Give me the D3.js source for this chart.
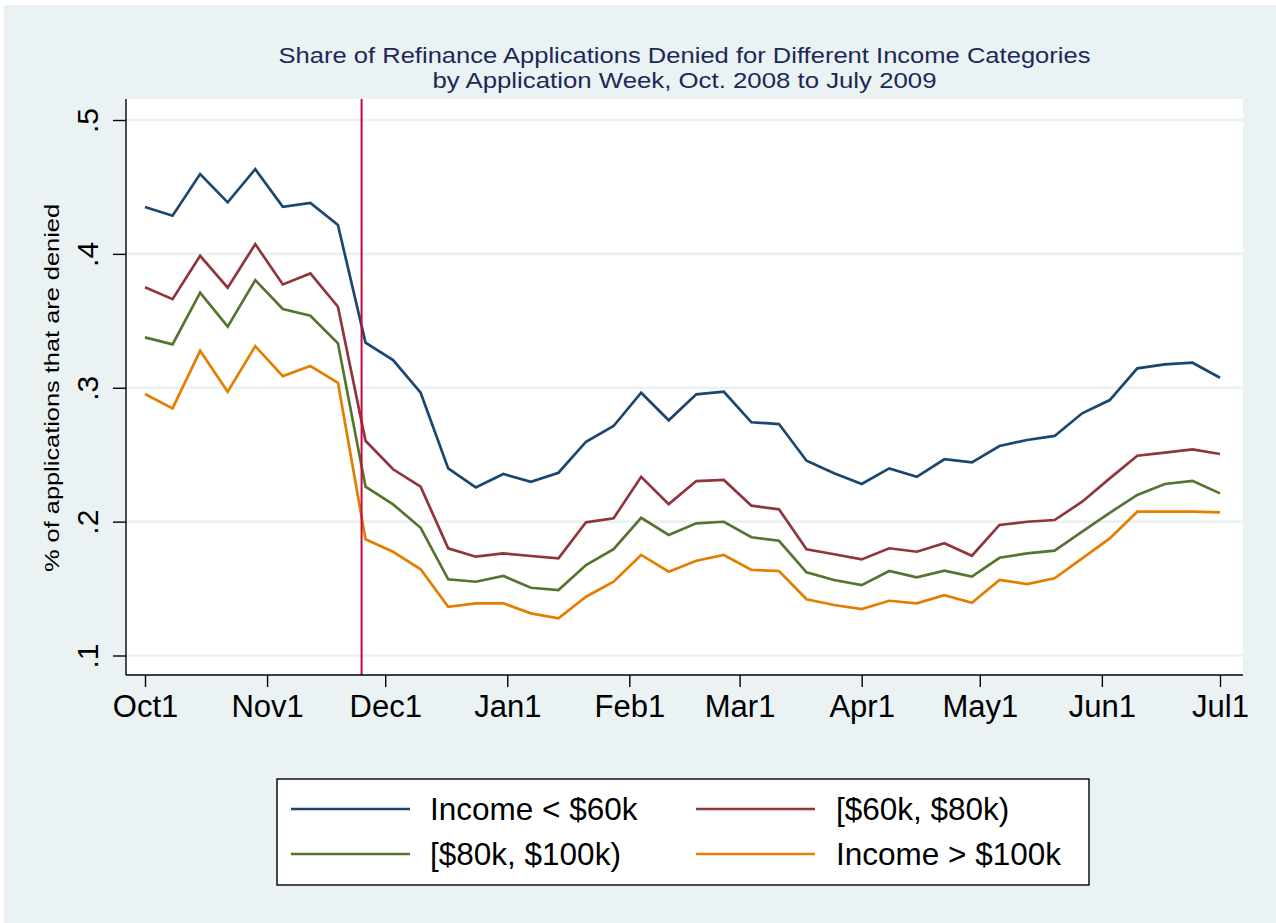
<!DOCTYPE html>
<html>
<head>
<meta charset="utf-8">
<script src="https://cdn.jsdelivr.net/npm/d3@7"></script>
<style>
  html, body { margin: 0; padding: 0; background: #ffffff; }
  svg { display: block; }
  text { font-family: "Liberation Sans", Arial, sans-serif; }
</style>
</head>
<body>
<svg id="chart" width="1276" height="923"></svg>
<script>
// ---------------- data ----------------
const weeks = [
  "2008-10-01","2008-10-08","2008-10-15","2008-10-22","2008-10-29",
  "2008-11-05","2008-11-12","2008-11-19","2008-11-26",
  "2008-12-03","2008-12-10","2008-12-17","2008-12-24","2008-12-31",
  "2009-01-07","2009-01-14","2009-01-21","2009-01-28",
  "2009-02-04","2009-02-11","2009-02-18","2009-02-25",
  "2009-03-04","2009-03-11","2009-03-18","2009-03-25",
  "2009-04-01","2009-04-08","2009-04-15","2009-04-22","2009-04-29",
  "2009-05-06","2009-05-13","2009-05-20","2009-05-27",
  "2009-06-03","2009-06-10","2009-06-17","2009-06-24",
  "2009-07-01"
];
const incomeUnder60 = [
  0.435, 0.4285, 0.4596, 0.4385, 0.4633, 0.4352, 0.438, 0.4216, 0.3337,
  0.3207, 0.2963, 0.2398, 0.2256, 0.2356, 0.2298, 0.2365, 0.2597, 0.2714,
  0.2963, 0.2757, 0.2951, 0.297, 0.2742, 0.2729, 0.2455, 0.2361, 0.2281,
  0.2398, 0.2335, 0.2466, 0.2443, 0.2565, 0.261, 0.264, 0.2809, 0.2908,
  0.3145, 0.3175, 0.3187, 0.3075
];
const income60to80 = [
  0.375, 0.3662, 0.3986, 0.3747, 0.4073, 0.3772, 0.3854, 0.3605, 0.2604,
  0.2391, 0.2261, 0.18, 0.1738, 0.1763, 0.1743, 0.1726, 0.1995, 0.2025,
  0.2335, 0.2131, 0.2303, 0.2311, 0.2119, 0.2092, 0.1793, 0.1756, 0.1718,
  0.1801, 0.1775, 0.1838, 0.1745, 0.1975, 0.1999, 0.2012, 0.2149, 0.2323,
  0.2492, 0.2515, 0.254, 0.2505
];
const income80to100 = [
  0.3376, 0.3324, 0.371, 0.3456, 0.3804, 0.3588, 0.3538, 0.3332, 0.2261,
  0.2129, 0.1954, 0.1569, 0.1551, 0.1594, 0.1506, 0.1489, 0.1676, 0.1795,
  0.2029, 0.19, 0.1987, 0.1999, 0.1883, 0.1857, 0.1621, 0.1564, 0.1526,
  0.1631, 0.1584, 0.1633, 0.1589, 0.173, 0.1763, 0.1783, 0.1925, 0.2066,
  0.2199, 0.2281, 0.2305, 0.2211
];
const incomeOver100 = [
  0.2953, 0.2846, 0.3276, 0.297, 0.3311, 0.3087, 0.3162, 0.3037, 0.1868,
  0.1775, 0.1644, 0.1364, 0.139, 0.139, 0.1315, 0.1278, 0.1439, 0.1551,
  0.1751, 0.1626, 0.1708, 0.1751, 0.1639, 0.1631, 0.142, 0.1377, 0.1347,
  0.1409, 0.139, 0.145, 0.1394, 0.1564, 0.1534, 0.1577, 0.1726, 0.1875,
  0.2074, 0.2074, 0.2074, 0.2069
];
const seriesNames = ["Income < $60k", "[$60k, $80k)", "[$80k, $100k)", "Income > $100k"];
const seriesColors = ["#1a476f", "#90353b", "#55752f", "#e37e00"];
const xTickDates = ["2008-10-01","2008-11-01","2008-12-01","2009-01-01","2009-02-01",
                    "2009-03-01","2009-04-01","2009-05-01","2009-06-01","2009-07-01"];
const xTickLabels = ["Oct1","Nov1","Dec1","Jan1","Feb1","Mar1","Apr1","May1","Jun1","Jul1"];
const yTicks = [0.1, 0.2, 0.3, 0.4, 0.5];
const yTickLabels = [".1", ".2", ".3", ".4", ".5"];
const eventDate = "2008-11-25";
const titleLines = ["Share of Refinance Applications Denied for Different Income Categories",
                    "by Application Week, Oct. 2008 to July 2009"];
const yTitle = "% of applications that are denied";

// ---------------- layout ----------------
const parse = d3.timeParse("%Y-%m-%d");
const svg = d3.select("#chart");
const plot = {left: 126, right: 1243, top: 99, bottom: 675};
const bg = "#eaf2f3";

svg.append("rect").attr("x", 4).attr("y", 5).attr("width", 1272).attr("height", 918).attr("fill", bg);
svg.append("rect").attr("x", plot.left).attr("y", plot.top)
  .attr("width", plot.right - plot.left).attr("height", plot.bottom - plot.top).attr("fill", "#ffffff");

const x = d3.scaleTime().domain([parse("2008-10-01"), parse("2009-07-01")]).range([145, 1220]);
const y = d3.scaleLinear().domain([0.1, 0.5]).range([655.5, 120]);

// gridlines
svg.append("g").selectAll("line").data(yTicks).join("line")
  .attr("x1", plot.left).attr("x2", plot.right)
  .attr("y1", d => y(d)).attr("y2", d => y(d))
  .attr("stroke", bg).attr("stroke-width", 2.6);

// series
const allSeries = [incomeUnder60, income60to80, income80to100, incomeOver100];
const line = d3.line().x((d, i) => x(parse(weeks[i]))).y(d => y(d));
allSeries.forEach((vals, k) => {
  svg.append("path").datum(vals).attr("d", line)
    .attr("fill", "none").attr("stroke", seriesColors[k]).attr("stroke-width", 2.7)
    .attr("stroke-linejoin", "miter");
});

// event line
svg.append("line")
  .attr("x1", x(parse(eventDate))).attr("x2", x(parse(eventDate)))
  .attr("y1", plot.top).attr("y2", plot.bottom)
  .attr("stroke", "#c4093f").attr("stroke-width", 2);

// y axis
const yAxis = d3.axisLeft(y).tickValues(yTicks).tickSize(13)
  .tickFormat((d, i) => yTickLabels[i]);
const gy = svg.append("g").attr("transform", `translate(${plot.left},0)`).call(yAxis);
gy.select(".domain").attr("d", `M0,${plot.top}V${plot.bottom}`).attr("stroke", "#000").attr("stroke-width", 1.4);
gy.selectAll(".tick line").attr("stroke", "#000").attr("stroke-width", 1.4);
gy.selectAll(".tick text")
  .attr("transform", "rotate(-90)")
  .attr("x", 0).attr("y", -28).attr("dy", 0)
  .attr("text-anchor", "middle")
  .attr("font-size", 30).attr("fill", "#000")
  .style("font-family", "'Liberation Sans', Arial, sans-serif");

// x axis
const xAxis = d3.axisBottom(x).tickValues(xTickDates.map(parse)).tickSize(12)
  .tickFormat((d, i) => xTickLabels[i]);
const gx = svg.append("g").attr("transform", `translate(0,${plot.bottom})`).call(xAxis);
gx.select(".domain").attr("d", `M${plot.left},0H${plot.right}`).attr("stroke", "#000").attr("stroke-width", 1.4);
gx.selectAll(".tick line").attr("stroke", "#000").attr("stroke-width", 1.4);
gx.selectAll(".tick text")
  .attr("y", 42).attr("dy", 0)
  .attr("font-size", 31).attr("fill", "#000")
  .style("font-family", "'Liberation Sans', Arial, sans-serif");

// y title
svg.append("text")
  .attr("transform", `translate(59,${(plot.top + plot.bottom) / 2 + 1}) rotate(-90)`)
  .attr("text-anchor", "middle")
  .attr("font-size", 21).attr("fill", "#000")
  .attr("textLength", 368).attr("lengthAdjust", "spacingAndGlyphs")
  .text(yTitle);

// title
const tcx = (plot.left + plot.right) / 2;
svg.append("text").attr("x", tcx).attr("y", 62.5).attr("text-anchor", "middle")
  .attr("font-size", 22).attr("fill", "#1c2957")
  .attr("textLength", 812).attr("lengthAdjust", "spacingAndGlyphs")
  .text(titleLines[0]);
svg.append("text").attr("x", tcx).attr("y", 87.5).attr("text-anchor", "middle")
  .attr("font-size", 22).attr("fill", "#1c2957")
  .attr("textLength", 504).attr("lengthAdjust", "spacingAndGlyphs")
  .text(titleLines[1]);

// legend
const lg = svg.append("g");
lg.append("rect").attr("x", 277).attr("y", 779).attr("width", 812).attr("height", 106)
  .attr("fill", "#fff").attr("stroke", "#000").attr("stroke-width", 1.4);
const legPos = [
  {lx: 291, ly: 809, tx: 430, ty: 820},
  {lx: 696, ly: 809, tx: 836, ty: 820},
  {lx: 291, ly: 854, tx: 430, ty: 865},
  {lx: 696, ly: 854, tx: 836, ty: 865}
];
seriesNames.forEach((name, k) => {
  const p = legPos[k];
  lg.append("line").attr("x1", p.lx).attr("x2", p.lx + 119).attr("y1", p.ly).attr("y2", p.ly)
    .attr("stroke", seriesColors[k]).attr("stroke-width", 2.6);
  lg.append("text").attr("x", p.tx).attr("y", p.ty).attr("font-size", 31.5).attr("fill", "#000")
    .text(name);
});
</script>
</body>
</html>
